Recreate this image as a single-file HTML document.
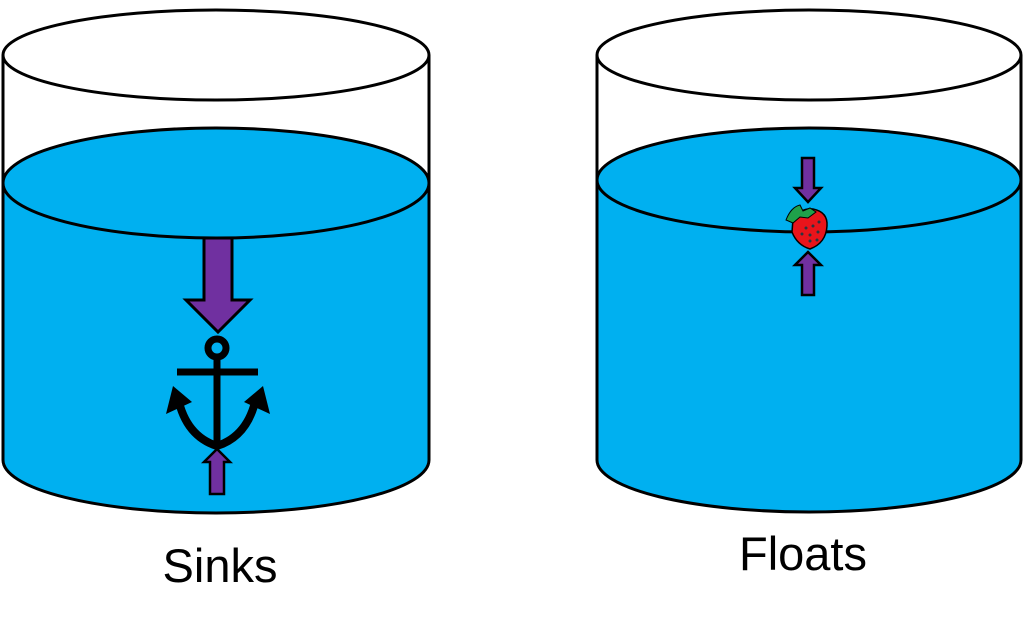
<!DOCTYPE html>
<html><head><style>html,body{margin:0;padding:0;background:#fff;width:1024px;height:625px;overflow:hidden}</style></head>
<body>
<svg width="1024" height="625" viewBox="0 0 1024 625" xmlns="http://www.w3.org/2000/svg">
<g stroke="#000" stroke-width="3">
  <path d="M3 183 L3 460 A213 53 0 0 0 429 460 L429 183 Z" fill="#00b0f0"/>
  <ellipse cx="216" cy="183" rx="213" ry="55" fill="#00b0f0"/>
  <line x1="3" y1="55" x2="3" y2="183"/><line x1="429" y1="55" x2="429" y2="183"/>
  <ellipse cx="216" cy="55" rx="213" ry="45" fill="#fff"/>
  <path d="M597 180 L597 460 A212 52 0 0 0 1021 460 L1021 180 Z" fill="#00b0f0"/>
  <ellipse cx="809" cy="180" rx="212" ry="52" fill="#00b0f0"/>
  <line x1="597" y1="55" x2="597" y2="180"/><line x1="1021" y1="55" x2="1021" y2="180"/>
  <ellipse cx="809" cy="55" rx="212" ry="45" fill="#fff"/>
  <path d="M204 238 H232 V300 H250 L218 332 L186 300 H204 Z" fill="#7030a0"/>
  <path d="M217 449 L230 462 H224 V494 H210 V462 H204 Z" fill="#7030a0" stroke-width="2.5"/>
  <path d="M802 158 H814 V188 H821 L808 202 L795 188 H802 Z" fill="#7030a0" stroke-width="2.5"/>
  <path d="M808 252 L821 265 H814 V295 H802 V265 H795 Z" fill="#7030a0" stroke-width="2.5"/>
</g>
<g stroke="#000" fill="none">
  <circle cx="217" cy="348" r="9" stroke-width="7"/>
  <line x1="177" y1="372" x2="258" y2="372" stroke-width="7"/>
  <line x1="217" y1="357" x2="217" y2="446" stroke-width="7"/>
  <path d="M178 398 Q186 436 217 446 Q248 436 256 398" stroke-width="8"/>
</g>
<path d="M166 414 L173 386 L192 402 Z" fill="#000"/>
<path d="M270 414 L263 386 L244 402 Z" fill="#000"/>
<path d="M793 219 Q800 208 813 209 Q828 212 827 226 Q826 243 810 249 Q797 245 792 232 Z" fill="#e8141b" stroke="#000" stroke-width="1.5"/>
<path d="M786 220 Q791 207 800 205 L803 211 L810 208 L816 212 L808 218 L800 217 L793 223 Z" fill="#1fa14a" stroke="#000" stroke-width="1"/>
<g fill="#2a3540"><circle cx="806" cy="228" r="1.5"/><circle cx="813" cy="226" r="1.5"/><circle cx="819" cy="222" r="1.5"/><circle cx="802" cy="234" r="1.5"/><circle cx="810" cy="235" r="1.5"/><circle cx="818" cy="232" r="1.5"/><circle cx="810" cy="241" r="1.5"/><circle cx="817" cy="240" r="1.5"/></g>
<text x="220" y="582" text-anchor="middle" font-family="Liberation Sans, sans-serif" font-size="47">Sinks</text>
<text x="803" y="570" text-anchor="middle" font-family="Liberation Sans, sans-serif" font-size="47">Floats</text>
</svg>
</body></html>
